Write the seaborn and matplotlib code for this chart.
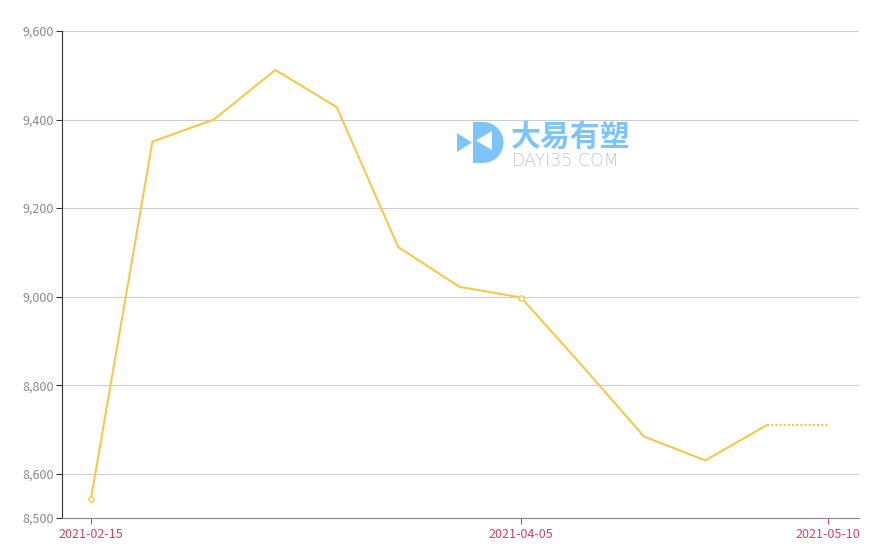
import pandas as pd
import numpy as np
import seaborn as sns
import matplotlib.pyplot as plt
import matplotlib.dates as mdates
import matplotlib.ticker as mtick
from matplotlib.patches import Polygon, Wedge, Rectangle

# Weekly price series
dates = pd.date_range('2021-02-15', '2021-05-10', freq='7D')
prices = [8543, 9350, 9400, 9512, 9428, 9112, 9022, 8998, 8843, 8684, 8630, 8710, 8710]
tick_dates = ['2021-02-15', '2021-04-05', '2021-05-10']
y_ticks = [8500, 8600, 8800, 9000, 9200, 9400, 9600]

df = pd.DataFrame({'date': dates, 'price': prices})

sns.set_style('white')
plt.rcParams['font.family'] = ['Noto Sans CJK SC', 'DejaVu Sans']

line_color = '#f5c84c'

fig = plt.figure(figsize=(8.93, 5.53), dpi=100)
ax = fig.add_axes([62 / 893, 35 / 553, (859 - 62) / 893, (518 - 31) / 553])

# solid part and dotted forecast segment
sns.lineplot(data=df.iloc[:12], x='date', y='price', ax=ax, color=line_color, linewidth=1.5)
ax.plot(df['date'].iloc[11:], df['price'].iloc[11:], color=line_color, linewidth=1.5, linestyle=(0, (1, 1)))
marked = df.iloc[[0, 7]]
ax.scatter(marked['date'], marked['price'], s=14, facecolor='white', edgecolor=line_color, linewidth=1, zorder=3)

ax.set_xlim(dates[0] - pd.Timedelta(days=3.3), dates[-1] + pd.Timedelta(days=3.5))
ax.set_ylim(8500, 9600)
ax.set_yticks(y_ticks)
ax.yaxis.set_major_formatter(mtick.StrMethodFormatter('{x:,.0f}'))
ax.set_xticks(pd.to_datetime(tick_dates))
ax.xaxis.set_major_formatter(mdates.DateFormatter('%Y-%m-%d'))
ax.grid(axis='y', color='#cccccc', linewidth=0.8)
ax.set_xlabel('')
ax.set_ylabel('')

for s in ['top', 'right']:
    ax.spines[s].set_visible(False)
ax.spines['left'].set_color('#333333')
ax.spines['bottom'].set_color('#888888')
ax.tick_params(axis='y', labelcolor='#888888', color='#333333', labelsize=9, length=4, width=0.8, left=True, pad=2)
ax.tick_params(axis='x', labelcolor='#cc4466', color='#cc4466', labelsize=9, length=4, width=0.8, bottom=True, pad=3)

# watermark logo, drawn in a pixel-scaled overlay axes
blue = '#7cc4fb'
logo = fig.add_axes([455 / 893, 1 - 166 / 553, 50 / 893, 47 / 553], zorder=0.5)
logo.set_xlim(455, 505)
logo.set_ylim(166, 119)
logo.axis('off')
logo.patch.set_alpha(0)
logo.add_patch(Rectangle((473, 122), 10, 41, color=blue, lw=0))
logo.add_patch(Wedge((483, 142.5), 20.5, -90, 90, color=blue, lw=0))
logo.add_patch(Polygon([(457, 133), (457, 152), (472, 142.5)], color=blue, lw=0))
logo.add_patch(Polygon([(476, 140.5), (492, 131), (492, 150)], color='white', lw=0))

fig.text(511 / 893, 1 - 152 / 553, '大易有塑', color=blue, fontsize=21.5, fontweight='heavy',
         va='bottom', ha='left', zorder=0)
fig.text(512 / 893, 1 - 152 / 553, 'DAYI35.COM', color='#c4c4c4', fontsize=12.5,
         va='top', ha='left', zorder=0, family='DejaVu Sans', fontweight='light')

fig.savefig('out.png', dpi=100)
